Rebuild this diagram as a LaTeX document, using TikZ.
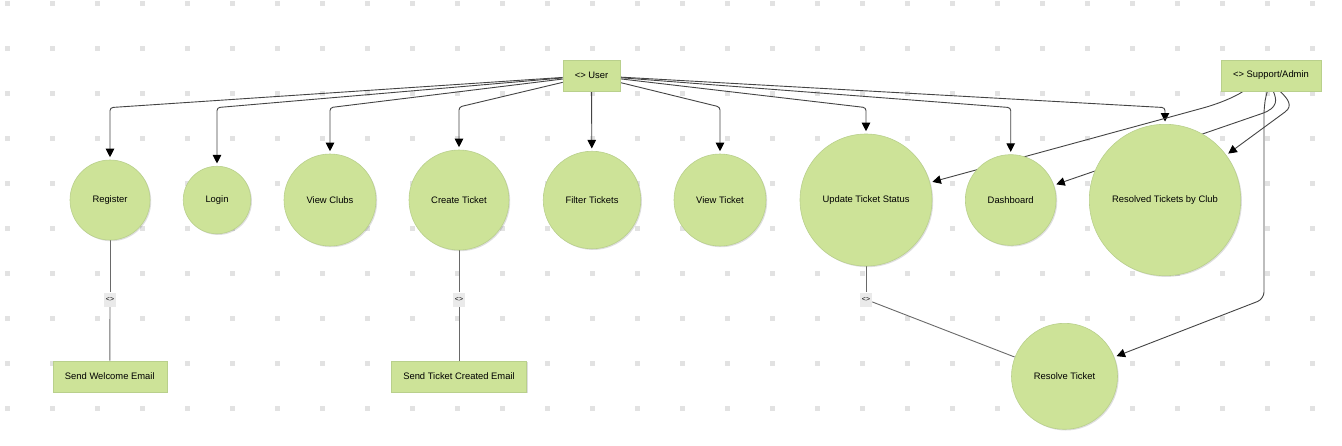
\documentclass[tikz,border=0pt]{standalone}
\usepackage{fontspec}
\setmainfont{Liberation Sans}
\usetikzlibrary{arrows.meta,shadows}
\pgfdeclarelayer{bg}
\pgfdeclarelayer{edges}
\pgfsetlayers{bg,edges,main}
\definecolor{ucfill}{HTML}{CDE398}
\definecolor{ucdraw}{HTML}{B9D08C}
\definecolor{dotc}{HTML}{E2E2E2}
\definecolor{linec}{HTML}{444444}
\definecolor{lblfill}{HTML}{EAEAEA}
\tikzset{
  shad/.style={drop shadow={shadow xshift=1.2pt, shadow yshift=-1.2pt, opacity=0.13, fill=black}},
  uc/.style={circle, fill=ucfill, draw=ucdraw, line width=0.6pt, inner sep=0pt,
    font=\fontsize{9.4}{11}\selectfont, shad},
  actor/.style={rectangle, fill=ucfill, draw=ucdraw, line width=0.6pt, inner sep=0pt,
    minimum height=31pt, font=\fontsize{9.4}{11}\selectfont, shad},
  lbl/.style={rectangle, fill=lblfill, inner sep=0pt, minimum width=12pt, minimum height=14pt,
    font=\fontsize{7}{8}\selectfont},
  tipped/.style={-{Triangle[width=8.5pt,length=8.5pt,color=black,fill=black]}, shorten >=2.5pt},
  uedge/.style={draw=linec, line width=0.9pt, rounded corners=3pt, tipped},
  sedge/.style={draw=linec, line width=0.9pt, tipped},
  iedge/.style={draw=linec!80, line width=0.9pt},
}
\begin{document}
\begin{tikzpicture}[x=1pt, y=-1pt]
\useasboundingbox (0,0) rectangle (1342,445);
\begin{pgfonlayer}{bg}
  \fill[white] (0,0) rectangle (1342,445);
  \foreach \i in {0,...,29}{
    \foreach \j in {0,...,9}{
      \fill[dotc] ({7.3+45*\i-2.25},{3.3+45*\j-2.25}) rectangle ++(4.5,4.5);
    }
  }
\end{pgfonlayer}

% actors
\node[actor, minimum width=57pt] (user) at (591.5,75.5) {<> User};
\node[actor, minimum width=100pt] (sup) at (1271,75.5) {<> Support/Admin};

% use cases
\node[uc, minimum size=80pt] (reg) at (110,200) {Register};
\node[uc, minimum size=67.5pt] (log) at (217,200) {Login};
\node[uc, minimum size=92pt] (vc) at (330,200) {View Clubs};
\node[uc, minimum size=100pt] (ct) at (459,200) {Create Ticket};
\node[uc, minimum size=97.5pt] (ft) at (592,200) {Filter Tickets};
\node[uc, minimum size=92pt] (vt) at (720,200) {View Ticket};
\node[uc, minimum size=132pt] (upd) at (866,200) {Update Ticket Status};
\node[uc, minimum size=90.7pt] (dash) at (1010.7,200) {Dashboard};
\node[uc, minimum size=151.4pt] (rbc) at (1165,200) {Resolved Tickets by Club};
\node[uc, minimum size=106pt] (rst) at (1064.5,376.3) {Resolve Ticket};

% included boxes
\node[actor, minimum width=114pt] (sw) at (109.8,376.3) {Send Welcome Email};
\node[actor, minimum width=135pt] (sc) at (459,376.3) {Send Ticket Created Email};

% include labels
\node[lbl] (l1) at (110,299.5) {<>};
\node[lbl] (l2) at (459,299.5) {<>};
\node[lbl] (l3) at (866,299.5) {<>};

\begin{pgfonlayer}{edges}
  % user associations
  \draw[uedge] (user) -- (110,107.6) -- (reg);
  \draw[uedge] (user) -- (217,107.6) -- (log);
  \draw[uedge] (user) -- (330,107.6) -- (vc);
  \draw[uedge] (user) -- (459,107) -- (ct);
  \draw[uedge] (user) -- (ft);
  \draw[uedge] (user) -- (720,107) -- (vt);
  \draw[uedge] (user) -- (866,107.6) -- (upd);
  \draw[uedge] (user) -- (1010.7,107.6) -- (dash);
  \draw[uedge] (user) -- (1165,107.6) -- (rbc);

  % support/admin associations
  \draw[sedge] ([xshift=-27.7pt]sup.south) .. controls (1233,98) and (1216.5,104.3) .. (1203,108) -- (upd);
  \draw[sedge] ([xshift=2.3pt]sup.south) .. controls (1276.5,99) and (1279,107.6) .. (1262,113.5) -- (dash);
  \draw[sedge] ([xshift=9pt]sup.south) .. controls (1287,98) and (1293.9,105.5) .. (1285,112) -- (rbc);
  \draw[sedge] ([xshift=-3.7pt]sup.south) .. controls (1265,100) .. (1264,112)
     [rounded corners=7pt] -- (1264,299) -- (rst);

  % include relations
  \draw[iedge] (reg) -- (l1);
  \draw[iedge] (l1) -- (sw);
  \draw[iedge] (ct) -- (l2);
  \draw[iedge] (l2) -- (sc);
  \draw[iedge] (upd) -- (l3);
  \draw[iedge] (l3) -- (rst);
\end{pgfonlayer}
\end{tikzpicture}
\end{document}
